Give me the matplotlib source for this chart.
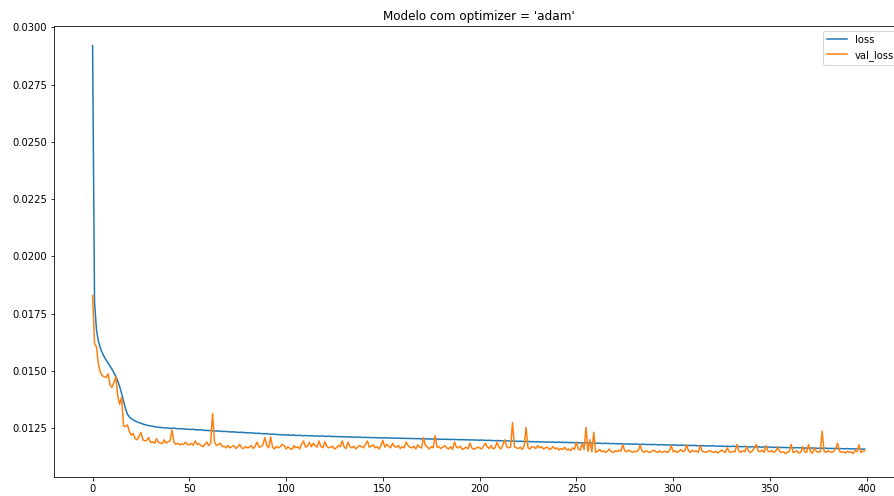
import numpy as np
import matplotlib
matplotlib.use("Agg")
import matplotlib.pyplot as plt

# values in units of 1e-5, one row = 20 epochs
loss_e5 = [
    2920, 1800, 1680, 1630, 1600, 1580, 1562, 1548, 1535, 1522, 1508, 1493, 1476, 1456, 1432, 1402, 1368, 1336, 1312, 1300,
    1292, 1287, 1282, 1278, 1275, 1272, 1269, 1266, 1264, 1262, 1261, 1259, 1257, 1256, 1255, 1254, 1253, 1252, 1252, 1251,
    1250, 1250, 1252, 1249, 1249, 1248, 1249, 1247, 1247, 1246, 1246, 1245, 1246, 1244, 1244, 1243, 1244, 1242, 1241, 1241,
    1240, 1241, 1239, 1239, 1238, 1239, 1237, 1237, 1236, 1237, 1235, 1235, 1234, 1235, 1233, 1233, 1232, 1233, 1232, 1231,
    1231, 1230, 1231, 1229, 1229, 1228, 1229, 1227, 1227, 1226, 1227, 1225, 1225, 1224, 1225, 1223, 1223, 1222, 1222, 1221,
    1221, 1222, 1220, 1220, 1221, 1219, 1219, 1220, 1218, 1218, 1219, 1218, 1217, 1218, 1217, 1216, 1217, 1216, 1216, 1217,
    1215, 1215, 1216, 1215, 1214, 1215, 1214, 1214, 1213, 1214, 1213, 1213, 1212, 1213, 1212, 1212, 1211, 1212, 1211, 1211,
    1210, 1211, 1210, 1210, 1210, 1209, 1210, 1209, 1209, 1209, 1208, 1209, 1208, 1208, 1208, 1207, 1208, 1207, 1207, 1207,
    1206, 1207, 1206, 1206, 1206, 1205, 1206, 1205, 1205, 1205, 1204, 1205, 1204, 1204, 1204, 1203, 1204, 1203, 1203, 1203,
    1202, 1203, 1202, 1202, 1202, 1201, 1202, 1201, 1201, 1201, 1200, 1201, 1200, 1200, 1200, 1199, 1200, 1199, 1199, 1199,
    1198, 1199, 1198, 1198, 1197, 1198, 1197, 1197, 1196, 1197, 1196, 1196, 1195, 1196, 1195, 1195, 1194, 1195, 1194, 1194,
    1193, 1194, 1193, 1193, 1192, 1193, 1192, 1192, 1192, 1191, 1192, 1191, 1191, 1191, 1190, 1191, 1190, 1190, 1190, 1189,
    1189, 1190, 1189, 1189, 1188, 1189, 1188, 1188, 1188, 1187, 1188, 1187, 1187, 1187, 1186, 1187, 1186, 1186, 1185, 1186,
    1185, 1185, 1186, 1184, 1184, 1185, 1184, 1184, 1183, 1184, 1183, 1183, 1182, 1183, 1182, 1182, 1182, 1181, 1182, 1181,
    1181, 1182, 1180, 1180, 1181, 1180, 1180, 1179, 1180, 1179, 1179, 1180, 1178, 1178, 1179, 1178, 1178, 1177, 1178, 1177,
    1177, 1178, 1176, 1176, 1177, 1176, 1176, 1175, 1176, 1175, 1175, 1176, 1174, 1174, 1175, 1174, 1174, 1173, 1174, 1173,
    1173, 1174, 1172, 1172, 1173, 1172, 1172, 1171, 1172, 1171, 1171, 1172, 1171, 1170, 1171, 1170, 1170, 1171, 1170, 1169,
    1169, 1170, 1169, 1169, 1170, 1168, 1168, 1169, 1168, 1168, 1169, 1167, 1167, 1168, 1167, 1167, 1166, 1167, 1166, 1166,
    1166, 1167, 1165, 1165, 1166, 1165, 1165, 1166, 1164, 1164, 1165, 1164, 1164, 1165, 1163, 1163, 1164, 1163, 1163, 1164,
    1162, 1163, 1162, 1162, 1163, 1162, 1161, 1162, 1161, 1161, 1162, 1161, 1160, 1161, 1160, 1160, 1161, 1160, 1159, 1160,
]

val_loss_e5 = [
    1830, 1620, 1605, 1530, 1495, 1480, 1475, 1472, 1488, 1440, 1428, 1450, 1475, 1390, 1355, 1385, 1260, 1258, 1265, 1235,
    1220, 1228, 1205, 1200, 1215, 1232, 1200, 1195, 1198, 1210, 1188, 1192, 1185, 1205, 1190, 1186, 1183, 1200, 1185, 1192,
    1195, 1243, 1190, 1180, 1185, 1178, 1182, 1180, 1190, 1180, 1178, 1185, 1176, 1195, 1180, 1183, 1175, 1170, 1180, 1190,
    1175, 1185, 1315, 1190, 1175, 1180, 1185, 1170, 1172, 1165, 1175, 1165, 1170, 1175, 1162, 1168, 1180, 1165, 1162, 1170,
    1165, 1168, 1175, 1162, 1172, 1190, 1168, 1170, 1178, 1210, 1175, 1165, 1213, 1168, 1160, 1172, 1165, 1170, 1180, 1175,
    1160, 1170, 1162, 1158, 1175, 1165, 1170, 1160, 1180, 1195, 1168, 1172, 1190, 1170, 1185, 1175, 1168, 1195, 1170, 1165,
    1192, 1172, 1165, 1168, 1172, 1160, 1165, 1175, 1170, 1195, 1168, 1162, 1190, 1170, 1165, 1172, 1160, 1168, 1175, 1170,
    1165, 1180, 1195, 1168, 1172, 1178, 1165, 1170, 1160, 1175, 1198, 1168, 1180, 1172, 1165, 1185, 1170, 1168, 1175, 1162,
    1170, 1165, 1190, 1175, 1168, 1165, 1172, 1160, 1178, 1168, 1165, 1209, 1175, 1168, 1160, 1170, 1165, 1218, 1168, 1170,
    1162, 1168, 1175, 1165, 1160, 1170, 1158, 1190, 1168, 1165, 1172, 1158, 1162, 1168, 1160, 1185, 1165, 1158, 1162, 1168,
    1165, 1160, 1172, 1185, 1168, 1162, 1175, 1160, 1165, 1190, 1168, 1160, 1178, 1200, 1170, 1165, 1168, 1276, 1170, 1165,
    1162, 1168, 1158, 1172, 1254, 1165, 1160, 1170, 1168, 1162, 1175, 1165, 1170, 1160, 1165, 1168, 1158, 1162, 1170, 1160,
    1165, 1155, 1162, 1158, 1168, 1155, 1160, 1152, 1165, 1158, 1190, 1160, 1155, 1185, 1158, 1254, 1150, 1200, 1148, 1233,
    1145, 1150, 1158, 1148, 1152, 1145, 1150, 1160, 1148, 1145, 1152, 1148, 1155, 1150, 1178, 1152, 1148, 1155, 1150, 1145,
    1150, 1148, 1155, 1177, 1150, 1145, 1152, 1148, 1145, 1150, 1155, 1148, 1145, 1152, 1145, 1148, 1150, 1145, 1150, 1175,
    1148, 1152, 1145, 1150, 1158, 1148, 1152, 1178, 1150, 1145, 1155, 1148, 1152, 1145, 1175, 1150, 1148, 1145, 1150, 1152,
    1148, 1145, 1150, 1142, 1148, 1155, 1150, 1145, 1165, 1148, 1145, 1150, 1148, 1180, 1150, 1145, 1152, 1148, 1170, 1150,
    1145, 1152, 1165, 1180, 1150, 1148, 1155, 1145, 1175, 1150, 1148, 1152, 1145, 1150, 1168, 1150, 1145, 1148, 1140, 1145,
    1150, 1180, 1145, 1148, 1152, 1142, 1145, 1170, 1148, 1145, 1180, 1148, 1142, 1165, 1150, 1145, 1148, 1238, 1150, 1145,
    1152, 1148, 1145, 1150, 1160, 1185, 1150, 1145, 1148, 1142, 1150, 1145, 1148, 1140, 1152, 1148, 1178, 1145, 1150, 1152,
]

assert len(loss_e5) == 400 and len(val_loss_e5) == 400

loss = np.array(loss_e5) / 1e5
val_loss = np.array(val_loss_e5) / 1e5
epochs = np.arange(len(loss))

fig = plt.figure(figsize=(894 / 72, 496 / 72), dpi=72)
# the original was cropped on the right, so the axes run past the figure edge
ax = fig.add_axes([0.0604, 0.0389, 0.950, 0.9093])
ax.plot(epochs, loss, label="loss")
ax.plot(epochs, val_loss, label="val_loss")
ax.set_xlim(-19.95, 418.95)
ax.set_ylim(0.01039, 0.03007)
ax.set_title("Modelo com optimizer = 'adam'")
ax.legend(loc="upper right")

fig.savefig("out.png", dpi=72)
